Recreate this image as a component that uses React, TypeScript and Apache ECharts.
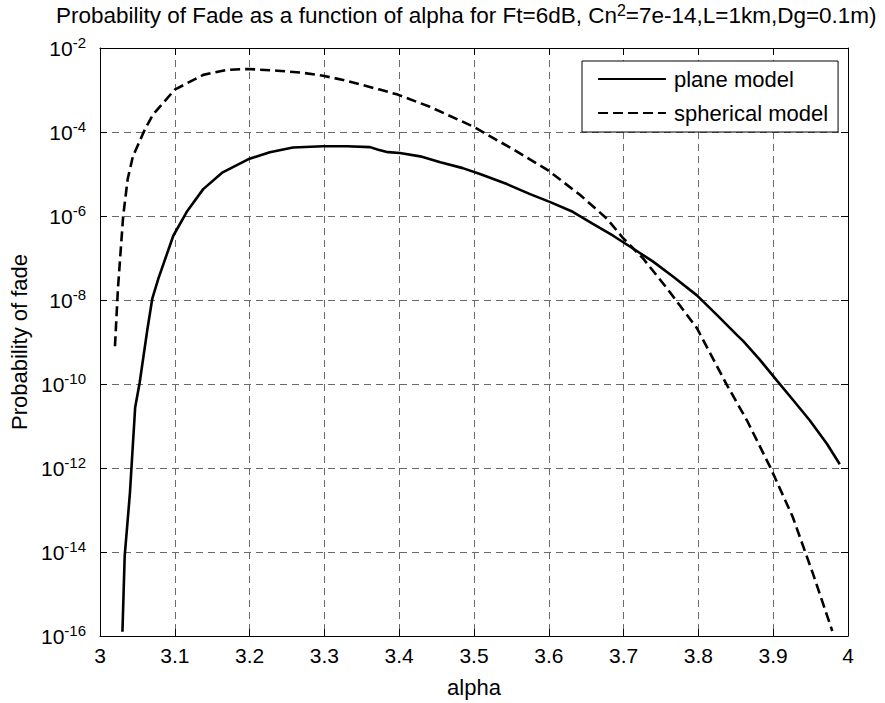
import React, { useEffect, useRef } from "react";
import * as echarts from "echarts";

// alpha values and log10(probability of fade)
const planeAlpha = [3.03, 3.033, 3.04, 3.047, 3.053, 3.063, 3.07, 3.078, 3.098, 3.116, 3.138, 3.164, 3.198, 3.227, 3.258, 3.298, 3.33, 3.361, 3.372, 3.385, 3.401, 3.428, 3.455, 3.485, 3.508, 3.544, 3.575, 3.602, 3.632, 3.659, 3.686, 3.713, 3.739, 3.766, 3.798, 3.825, 3.853, 3.86, 3.882, 3.905, 3.926, 3.949, 3.972, 3.989];
const planeLogP = [-15.9, -14.1, -12.6, -10.56, -9.97, -8.74, -7.96, -7.49, -6.47, -5.9, -5.36, -4.96, -4.65, -4.48, -4.37, -4.34, -4.34, -4.36, -4.42, -4.48, -4.5, -4.58, -4.72, -4.86, -5.0, -5.24, -5.48, -5.67, -5.9, -6.19, -6.47, -6.78, -7.08, -7.44, -7.89, -8.36, -8.86, -8.98, -9.42, -9.92, -10.37, -10.87, -11.43, -11.91];

const sphericalAlpha = [3.02, 3.024, 3.031, 3.037, 3.044, 3.06, 3.071, 3.1, 3.138, 3.17, 3.198, 3.237, 3.271, 3.298, 3.325, 3.374, 3.398, 3.441, 3.499, 3.552, 3.598, 3.642, 3.678, 3.699, 3.726, 3.758, 3.798, 3.838, 3.865, 3.896, 3.926, 3.953, 3.979];
const sphericalLogP = [-9.1, -7.72, -6.0, -5.12, -4.58, -3.94, -3.58, -2.99, -2.64, -2.52, -2.5, -2.54, -2.59, -2.66, -2.76, -2.99, -3.11, -3.4, -3.87, -4.41, -4.9, -5.5, -6.07, -6.52, -7.01, -7.72, -8.67, -10.02, -10.87, -11.98, -13.16, -14.51, -15.88];

const seriesNames = ["plane model", "spherical model"];
const yExponentMin = -16;
const yExponentMax = -2;

export default function App() {
  const ref = useRef<HTMLDivElement>(null);

  useEffect(() => {
    document.body.style.margin = "0";
    if (!ref.current) return;
    const chart = echarts.init(ref.current, null, { renderer: "svg" });
    const font = "'Liberation Sans', Arial, Helvetica, sans-serif";
    const gridLine = { show: true, lineStyle: { color: "#6a6a6a", width: 1, type: [7, 5] as any } };
    const axisLineStyle = { show: true, onZero: false, lineStyle: { color: "#000", width: 1 } };

    chart.setOption({
      animation: false,
      backgroundColor: "#fff",
      title: {
        text: "Probability of Fade as a function of alpha for Ft=6dB, Cn{sup|2}=7e-14,L=1km,Dg=0.1m)",
        left: 56,
        top: 3,
        padding: 0,
        textStyle: {
          fontFamily: font,
          fontSize: 22.5,
          fontWeight: "normal",
          color: "#000",
          lineHeight: 24,
          rich: {
            sup: { fontFamily: font, fontSize: 16, color: "#000", lineHeight: 16, padding: [0, 0, 10, 0] },
          },
        },
      },
      legend: {
        left: 582,
        top: 61,
        orient: "vertical",
        padding: [7, 10, 8, 15],
        itemGap: 12,
        itemWidth: 68,
        itemHeight: 14,
        backgroundColor: "#fff",
        borderColor: "#000",
        borderWidth: 1,
        borderRadius: 0,
        itemStyle: { opacity: 0 },
        textStyle: { fontFamily: font, fontSize: 22, color: "#000", padding: [0, 0, 0, 3], lineHeight: 22 },
        data: seriesNames,
      },
      grid: { left: 100, right: 37, top: 48, bottom: 63, containLabel: false },
      xAxis: [
        {
          type: "value",
          min: 3,
          max: 4,
          interval: 0.1,
          name: "alpha",
          nameLocation: "middle",
          nameGap: 40,
          nameTextStyle: { fontFamily: font, fontSize: 22, color: "#000" },
          axisLine: axisLineStyle,
          axisTick: { show: true, inside: true, length: 7, lineStyle: { color: "#000" } },
          axisLabel: { fontFamily: font, fontSize: 21, color: "#000", margin: 9 },
          splitLine: gridLine,
        },
        {
          type: "value",
          position: "top",
          min: 3,
          max: 4,
          interval: 0.1,
          axisLine: axisLineStyle,
          axisTick: { show: true, inside: true, length: 7, lineStyle: { color: "#000" } },
          axisLabel: { show: false },
          splitLine: { show: false },
        },
      ],
      yAxis: [
        {
          type: "value",
          min: yExponentMin,
          max: yExponentMax,
          interval: 2,
          name: "Probability of fade",
          nameLocation: "middle",
          nameGap: 66,
          nameRotate: 90,
          nameTextStyle: { fontFamily: font, fontSize: 22, color: "#000" },
          axisLine: axisLineStyle,
          axisTick: { show: true, inside: true, length: 7, lineStyle: { color: "#000" } },
          axisLabel: {
            fontFamily: font,
            color: "#000",
            margin: 14,
            formatter: (v: number) => `{b|10}{s|${v}}`,
            rich: {
              b: { fontFamily: font, fontSize: 21, color: "#000", lineHeight: 21 },
              s: { fontFamily: font, fontSize: 15, color: "#000", lineHeight: 15, padding: [0, 0, 12, 0] },
            },
          },
          splitLine: gridLine,
        },
        {
          type: "value",
          position: "right",
          min: yExponentMin,
          max: yExponentMax,
          interval: 2,
          axisLine: axisLineStyle,
          axisTick: { show: true, inside: true, length: 7, lineStyle: { color: "#000" } },
          axisLabel: { show: false },
          splitLine: { show: false },
        },
      ],
      series: [
        {
          name: seriesNames[0],
          type: "line",
          xAxisIndex: 0,
          yAxisIndex: 0,
          symbol: "none",
          smooth: false,
          lineStyle: { color: "#000", width: 2.6, type: "solid" },
          itemStyle: { color: "#000" },
          data: planeAlpha.map((a, i) => [a, planeLogP[i]]),
        },
        {
          name: seriesNames[1],
          type: "line",
          xAxisIndex: 0,
          yAxisIndex: 0,
          symbol: "none",
          smooth: false,
          lineStyle: { color: "#000", width: 2.6, type: [10, 5] as any },
          itemStyle: { color: "#000" },
          data: sphericalAlpha.map((a, i) => [a, sphericalLogP[i]]),
        },
      ],
    });
    return () => chart.dispose();
  }, []);

  return <div ref={ref} style={{ width: 885, height: 703 }} />;
}
